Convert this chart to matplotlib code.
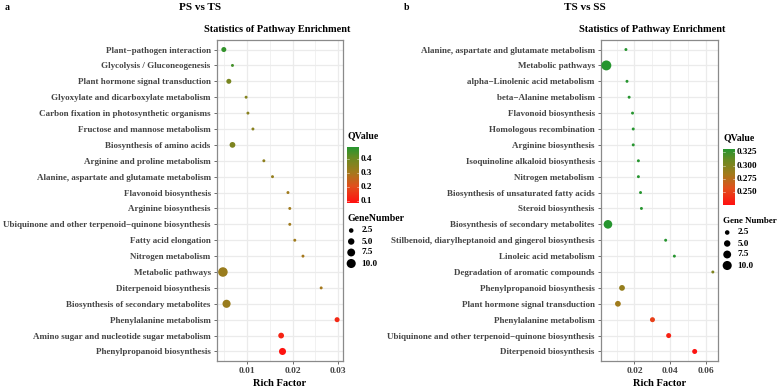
"""KEGG pathway enrichment bubble plots: PS vs TS and TS vs SS."""
import matplotlib.pyplot as plt
import numpy as np
from matplotlib.colors import LinearSegmentedColormap, Normalize

# ---- panel a: PS vs TS ----
a_pathways = [
    "Plant\u2212pathogen interaction",
    "Glycolysis / Gluconeogenesis",
    "Plant hormone signal transduction",
    "Glyoxylate and dicarboxylate metabolism",
    "Carbon fixation in photosynthetic organisms",
    "Fructose and mannose metabolism",
    "Biosynthesis of amino acids",
    "Arginine and proline metabolism",
    "Alanine, aspartate and glutamate metabolism",
    "Flavonoid biosynthesis",
    "Arginine biosynthesis",
    "Ubiquinone and other terpenoid\u2212quinone biosynthesis",
    "Fatty acid elongation",
    "Nitrogen metabolism",
    "Metabolic pathways",
    "Diterpenoid biosynthesis",
    "Biosynthesis of secondary metabolites",
    "Phenylalanine metabolism",
    "Amino sugar and nucleotide sugar metabolism",
    "Phenylpropanoid biosynthesis",
]
a_rich = [0.0049, 0.0068, 0.0060, 0.0098, 0.0102, 0.0113, 0.0068, 0.0137,
          0.0156, 0.0190, 0.0194, 0.0194, 0.0205, 0.0223, 0.0047, 0.0263,
          0.0055, 0.0298, 0.0175, 0.0178]
a_genes = [3, 1, 3, 1, 1, 1, 4, 1, 1, 1, 1, 1, 1, 1, 11, 1, 8, 3, 4, 6]
a_qvalue = [0.47, 0.45, 0.38, 0.36, 0.35, 0.35, 0.37, 0.34, 0.33, 0.31,
            0.31, 0.31, 0.31, 0.30, 0.32, 0.30, 0.32, 0.13, 0.12, 0.09]
a_qrange = (0.084, 0.486)
a_qticks = [0.1, 0.2, 0.3, 0.4]
a_xticks = [0.01, 0.02, 0.03]

# ---- panel b: TS vs SS ----
b_pathways = [
    "Alanine, aspartate and glutamate metabolism",
    "Metabolic pathways",
    "alpha\u2212Linolenic acid metabolism",
    "beta\u2212Alanine metabolism",
    "Flavonoid biosynthesis",
    "Homologous recombination",
    "Arginine biosynthesis",
    "Isoquinoline alkaloid biosynthesis",
    "Nitrogen metabolism",
    "Biosynthesis of unsaturated fatty acids",
    "Steroid biosynthesis",
    "Biosynthesis of secondary metabolites",
    "Stilbenoid, diarylheptanoid and gingerol biosynthesis",
    "Linoleic acid metabolism",
    "Degradation of aromatic compounds",
    "Phenylpropanoid biosynthesis",
    "Plant hormone signal transduction",
    "Phenylalanine metabolism",
    "Ubiquinone and other terpenoid\u2212quinone biosynthesis",
    "Diterpenoid biosynthesis",
]
b_rich = [0.0152, 0.0042, 0.0158, 0.0170, 0.0189, 0.0193, 0.0193, 0.0222,
          0.0222, 0.0234, 0.0239, 0.0051, 0.0375, 0.0424, 0.0640, 0.0130,
          0.0107, 0.0301, 0.0392, 0.0538]
b_genes = [1, 12, 1, 1, 1, 1, 1, 1, 1, 1, 1, 9, 1, 1, 1, 4, 4, 3, 3, 3]
b_qvalue = [0.33, 0.33, 0.33, 0.33, 0.33, 0.33, 0.33, 0.33, 0.33, 0.33,
            0.33, 0.33, 0.33, 0.33, 0.30, 0.29, 0.285, 0.25, 0.235, 0.229]
b_qrange = (0.2267, 0.3308)
b_qticks = [0.250, 0.275, 0.300, 0.325]
b_xticks = [0.02, 0.04, 0.06]

legend_sizes = [2.5, 5.0, 7.5, 10.0]

W, H = 778, 387
SERIF = ["Liberation Serif", "DejaVu Serif"]
plt.rcParams["font.family"] = SERIF
plt.rcParams["font.weight"] = "bold"

cmap = LinearSegmentedColormap.from_list(
    "qv", [(0.0, "#ff1010"), (0.3, "#e0501c"), (0.55, "#a27a1c"),
           (0.8, "#6a8a22"), (1.0, "#25952f")])


def px_box(x0, y0, x1, y1):
    return [x0 / W, 1 - y1 / H, (x1 - x0) / W, (y1 - y0) / H]


def gene_size(n):
    # marker diameter in px grows with sqrt of gene count (area mapping)
    d_px = np.sqrt(0.5 + 8.2 * np.asarray(n, dtype=float))
    return (d_px * 0.72) ** 2


def draw_panel(fig, box, names, rich, genes, qv, qrange, xticks, xlim, minor):
    ax = fig.add_axes(px_box(*box))
    n = len(names)
    ys = np.arange(n)[::-1]
    norm = Normalize(*qrange)
    ax.set_facecolor("white")
    for v in list(xticks) + list(minor):
        ax.axvline(v, color="#ebebeb", lw=0.9 if v in xticks else 0.5, zorder=0)
    for y in ys:
        ax.axhline(y, color="#ebebeb", lw=0.9, zorder=0)
    ax.scatter(rich, ys, s=gene_size(genes), c=cmap(norm(qv)), lw=0, zorder=3)
    ax.set_xlim(*xlim)
    ax.set_ylim(-0.6, n - 0.4)
    ax.set_yticks(ys)
    ax.set_yticklabels(names, fontsize=6.5, color="#444444", fontweight="bold")
    ax.set_xticks(xticks)
    ax.set_xticklabels([f"{t:g}" for t in xticks], fontsize=6.8,
                       color="#444444", fontweight="bold")
    ax.tick_params(length=2.5, width=0.6, color="#555555", pad=2)
    for s in ax.spines.values():
        s.set_color("#8a8a8a")
        s.set_linewidth(0.9)
    ax.set_xlabel("Rich Factor", fontsize=7.6, fontweight="bold", labelpad=3)
    return ax


def draw_legend(fig, x, y_top, qrange, qticks, fmt, size_title, title_fs):
    # colour bar
    cb_top, cb_bot = y_top + 6, y_top + 62
    cax = fig.add_axes(px_box(x, cb_top, x + 12, cb_bot))
    levels = np.linspace(qrange[0], qrange[1], 300)
    cax.pcolormesh([0, 1], levels, levels[:-1, None], cmap=cmap,
                   vmin=qrange[0], vmax=qrange[1], shading="flat")
    cax.set_xlim(0, 1)
    cax.set_ylim(*qrange)
    cax.set_xticks([])
    cax.set_yticks([])
    for s in cax.spines.values():
        s.set_visible(False)
    for t in qticks:
        cax.plot([0, 0.15], [t, t], color="white", lw=0.4, alpha=0.8)
        cax.plot([0.85, 1], [t, t], color="white", lw=0.4, alpha=0.8)
        fig.text((x + 14) / W, 1 - (cb_top + (qrange[1] - t) /
                                     (qrange[1] - qrange[0]) * (cb_bot - cb_top)) / H,
                 fmt.format(t), fontsize=6.6, va="center", ha="left")
    fig.text(x / W, 1 - (y_top - 1) / H, "QValue", fontsize=7, va="bottom",
             ha="left")
    # size legend
    lax = fig.add_axes(px_box(x, y_top + 84, x + 12, y_top + 128))
    lax.set_xlim(0, 1)
    lax.set_ylim(0, 4)
    lax.axis("off")
    ly = np.arange(len(legend_sizes))[::-1] + 0.5
    lax.scatter([0.35] * len(legend_sizes), ly, s=gene_size(legend_sizes),
                color="black", lw=0, clip_on=False)
    for yy, v in zip(ly, legend_sizes):
        lax.text(1.2, yy, f"{v:.1f}", fontsize=6.6, va="center", ha="left")
    fig.text(x / W, 1 - (y_top + 82) / H, size_title, fontsize=title_fs,
             va="bottom", ha="left")


fig = plt.figure(figsize=(W / 100, H / 100), dpi=100)

draw_panel(fig, (217, 40, 343, 361), a_pathways, a_rich, a_genes, a_qvalue,
           a_qrange, a_xticks, (0.0034, 0.0311), [0.005, 0.015, 0.025])
draw_panel(fig, (601, 40, 718, 361), b_pathways, b_rich, b_genes, b_qvalue,
           b_qrange, b_xticks, (0.0012, 0.0669), [0.01, 0.03, 0.05])

draw_legend(fig, 347, 141, a_qrange, a_qticks, "{:.1f}", "GeneNumber", 7)
draw_legend(fig, 723, 143, b_qrange, b_qticks, "{:.3f}", "Gene Number", 6.5)

fig.text(5 / W, 1 - 8 / H, "a", fontsize=7, va="center", ha="left")
fig.text(200 / W, 1 - 8 / H, "PS vs TS", fontsize=8, va="center", ha="center")
fig.text(277 / W, 1 - 29 / H, "Statistics of Pathway Enrichment", fontsize=7.4,
         va="center", ha="center")
fig.text(404 / W, 1 - 8 / H, "b", fontsize=7, va="center", ha="left")
fig.text(585 / W, 1 - 8 / H, "TS vs SS", fontsize=8, va="center", ha="center")
fig.text(652 / W, 1 - 29 / H, "Statistics of Pathway Enrichment", fontsize=7.4,
         va="center", ha="center")

fig.savefig("out.png", dpi=100)
